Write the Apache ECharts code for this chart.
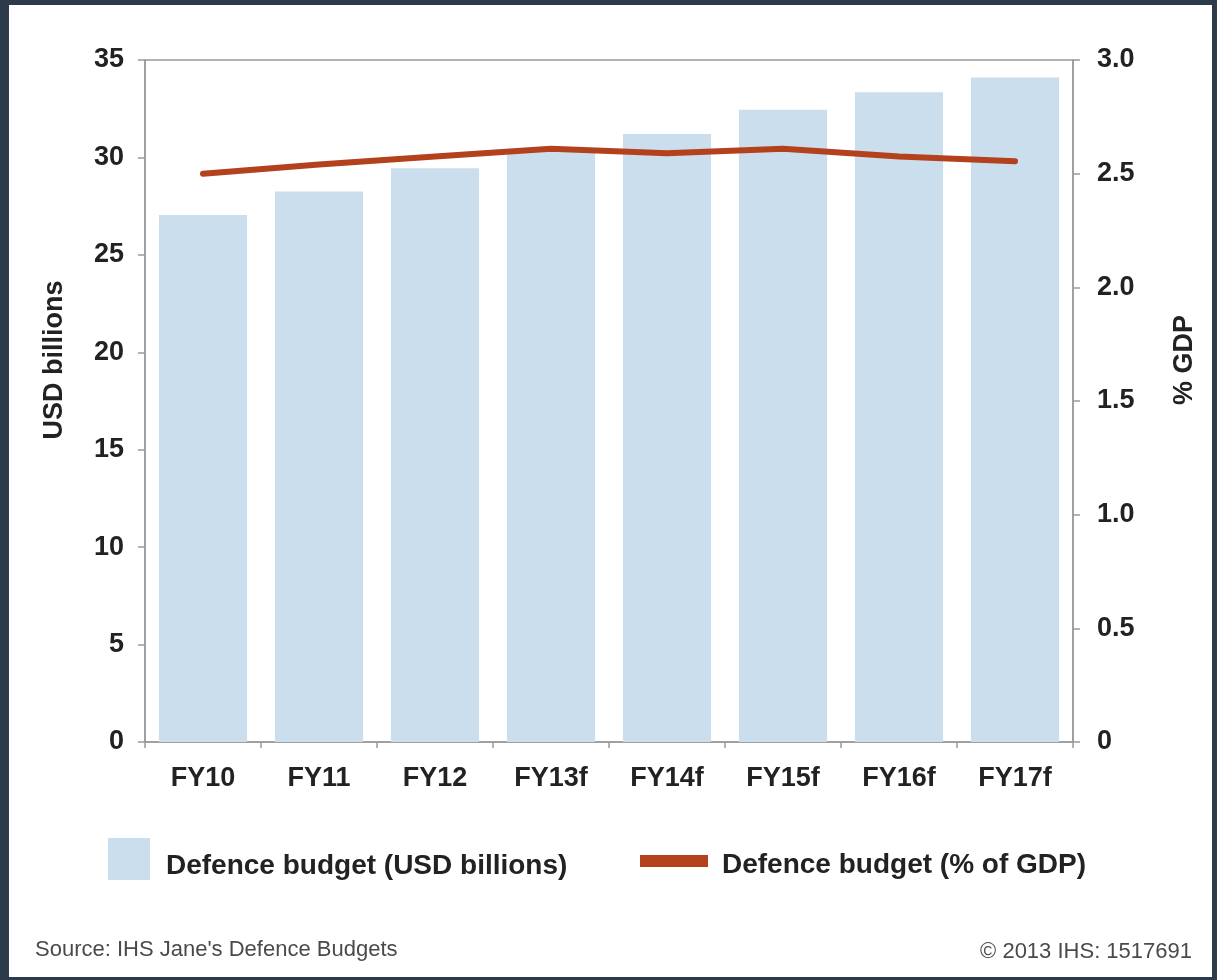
<!DOCTYPE html>
<html>
<head>
<meta charset="utf-8">
<script src="https://cdn.jsdelivr.net/npm/echarts@6/dist/echarts.min.js"></script>
<style>
html,body{margin:0;padding:0;background:#fff;}
#chart{width:1217px;height:980px;}
</style>
</head>
<body>
<div id="chart"></div>
<script>
const categories = ['FY10', 'FY11', 'FY12', 'FY13f', 'FY14f', 'FY15f', 'FY16f', 'FY17f'];
const budgetUSD = [27.05, 28.25, 29.45, 30.3, 31.2, 32.45, 33.35, 34.1];
const budgetGDP = [2.50, 2.54, 2.575, 2.61, 2.59, 2.61, 2.575, 2.555];
const leftTicks = { min: 0, max: 35, interval: 5 };
const rightTicks = { min: 0, max: 3, interval: 0.5 };
const seriesNames = ['Defence budget (USD billions)', 'Defence budget (% of GDP)'];
const axisNames = ['USD billions', '% GDP'];
const sourceText = "Source: IHS Jane's Defence Budgets";
const copyrightText = '\u00A9 2013 IHS: 1517691';

const FONT = '"Liberation Sans", Arial, Helvetica, sans-serif';
const barColor = '#cadeee';
const lineColor = '#b3411d';
const axisColor = '#9a9a9a';
const frameColor = '#2c3a49';

const chart = echarts.init(document.getElementById('chart'), null, { renderer: 'canvas' });

const boldText = { fontFamily: FONT, fontWeight: 'bold', fontSize: 27, color: '#222' };
const legendTok = { fontFamily: FONT, fontWeight: 'bold', fontSize: 28, color: '#222' };

chart.setOption({
  backgroundColor: '#fff',
  animation: false,
  grid: {
    left: 145, right: 144, top: 60, bottom: 238,
    show: true, borderColor: axisColor, borderWidth: 1.5, backgroundColor: 'transparent'
  },
  legend: [
    {
      data: [{ name: seriesNames[0], icon: 'rect' }],
      left: 108, top: 838, padding: 0,
      itemWidth: 42, itemHeight: 42, itemGap: 0,
      formatter: n => '{a|' + n + '}',
      textStyle: Object.assign({}, legendTok, {
        rich: { a: Object.assign({}, legendTok, { padding: [14, 0, 0, 11] }) }
      })
    },
    {
      data: [{ name: seriesNames[1], icon: 'rect' }],
      left: 640, top: 851, padding: 0,
      itemWidth: 68, itemHeight: 12, itemGap: 0,
      formatter: n => '{a|' + n + '}',
      textStyle: Object.assign({}, legendTok, {
        rich: { a: Object.assign({}, legendTok, { padding: [8, 0, 0, 9] }) }
      })
    }
  ],
  xAxis: {
    type: 'category',
    data: categories,
    axisLine: { lineStyle: { color: axisColor, width: 1.5 } },
    axisTick: { show: true, length: 6, lineStyle: { color: axisColor, width: 1.5 } },
    axisLabel: Object.assign({}, boldText, { margin: 23 }),
    splitLine: { show: false }
  },
  yAxis: [
    {
      type: 'value',
      min: leftTicks.min, max: leftTicks.max, interval: leftTicks.interval,
      position: 'left',
      name: axisNames[0],
      nameLocation: 'middle', nameRotate: 90, nameGap: 77,
      nameTextStyle: Object.assign({}, boldText, { padding: [0, 0, 0, 82] }),
      axisLine: { show: true, lineStyle: { color: axisColor, width: 1.5 } },
      axisTick: { show: true, length: 7, lineStyle: { color: axisColor, width: 1.5 } },
      axisLabel: Object.assign({}, boldText, { margin: 21 }),
      splitLine: { show: false }
    },
    {
      type: 'value',
      min: rightTicks.min, max: rightTicks.max, interval: rightTicks.interval,
      position: 'right',
      name: axisNames[1],
      nameLocation: 'middle', nameRotate: 90, nameGap: 98,
      nameTextStyle: Object.assign({}, boldText, { padding: [0, 0, 0, 82] }),
      axisLine: { show: true, lineStyle: { color: axisColor, width: 1.5 } },
      axisTick: { show: true, length: 7, lineStyle: { color: axisColor, width: 1.5 } },
      axisLabel: Object.assign({}, boldText, {
        margin: 24,
        formatter: v => (v === 0 ? '0' : v.toFixed(1))
      }),
      splitLine: { show: false }
    }
  ],
  series: [
    {
      name: seriesNames[0],
      type: 'bar',
      yAxisIndex: 0,
      data: budgetUSD,
      barCategoryGap: '24%',
      itemStyle: { color: barColor },
      z: 1
    },
    {
      name: seriesNames[1],
      type: 'line',
      yAxisIndex: 1,
      data: budgetGDP,
      showSymbol: false,
      symbol: 'none',
      lineStyle: { color: lineColor, width: 6, cap: 'round', join: 'round' },
      itemStyle: { color: lineColor },
      z: 3
    }
  ],
  graphic: [
    { type: 'rect', left: 0, top: 0, shape: { width: 1217, height: 5 }, style: { fill: frameColor }, silent: true },
    { type: 'rect', left: 0, top: 0, shape: { width: 9, height: 980 }, style: { fill: frameColor }, silent: true },
    { type: 'rect', right: 0, top: 0, shape: { width: 5, height: 980 }, style: { fill: frameColor }, silent: true },
    { type: 'rect', left: 0, bottom: 0, shape: { width: 1217, height: 3 }, style: { fill: frameColor }, silent: true },
    {
      type: 'text', left: 35, top: 939,
      style: { text: sourceText, font: '22px ' + FONT, fill: '#4a4a4a' }
    },
    {
      type: 'text', right: 25, top: 941,
      style: { text: copyrightText, font: '22px ' + FONT, fill: '#4a4a4a' }
    }
  ]
});
</script>
</body>
</html>
